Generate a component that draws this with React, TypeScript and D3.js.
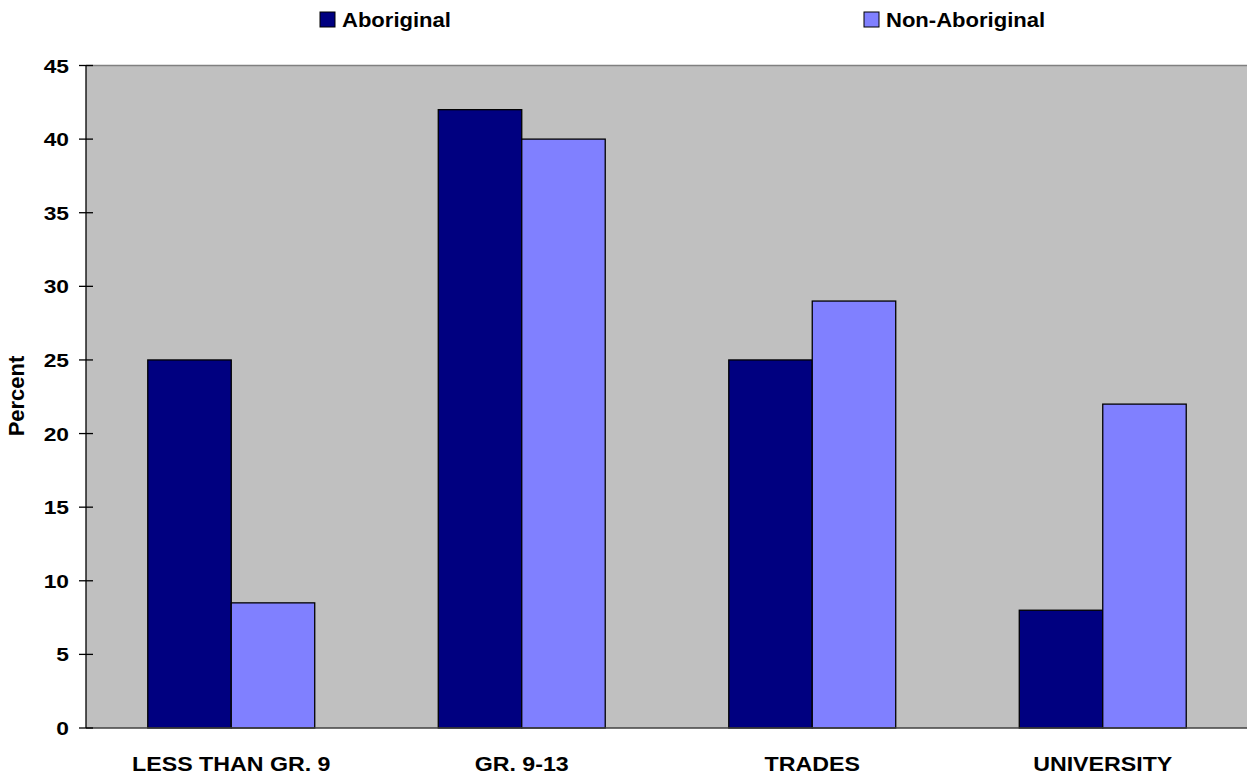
import React from "react";
import * as d3 from "d3";

const categories = ["LESS THAN GR. 9", "GR. 9-13", "TRADES", "UNIVERSITY"];
const seriesNames = ["Aboriginal", "Non-Aboriginal"];
const aboriginal = [25, 42, 25, 8];
const nonAboriginal = [8.5, 40, 29, 22];
const yTicks = [0, 5, 10, 15, 20, 25, 30, 35, 40, 45];
const colors = ["#000080", "#8080FF"];

const W = 1247;
const H = 775;
const plot = { left: 86, right: 1248, top: 65.5, bottom: 728 };
const FONT = "Liberation Sans, Arial, sans-serif";

export default function App() {
  const x0 = d3.scaleBand<string>().domain(categories).range([plot.left, plot.right]);
  const x1 = d3
    .scaleBand<string>()
    .domain(seriesNames)
    .range([0, x0.bandwidth()])
    .paddingInner(0)
    .paddingOuter(0.74);
  const y = d3.scaleLinear().domain([0, 45]).range([plot.bottom, plot.top]);
  const values = [aboriginal, nonAboriginal];

  return (
    <svg
      width={W}
      height={H}
      style={{ position: "absolute", left: 0, top: 0, background: "#fff" }}
      fontFamily={FONT}
      fontWeight="bold"
    >
      {/* plot background */}
      <rect
        x={plot.left}
        y={plot.top}
        width={plot.right - plot.left}
        height={plot.bottom - plot.top}
        fill="#C0C0C0"
      />
      <line x1={plot.left} x2={plot.right} y1={plot.top} y2={plot.top} stroke="#808080" strokeWidth={1.5} />

      {/* bars */}
      {categories.map((c, i) =>
        seriesNames.map((s, j) => {
          const v = values[j][i];
          const bx = (x0(c) ?? 0) + (x1(s) ?? 0);
          return (
            <rect
              key={c + s}
              x={bx}
              y={y(v)}
              width={x1.bandwidth()}
              height={y(0) - y(v)}
              fill={colors[j]}
              stroke="#000"
              strokeWidth={1.3}
            />
          );
        })
      )}

      {/* axes */}
      <line x1={plot.left} x2={plot.right} y1={plot.bottom} y2={plot.bottom} stroke="#404040" strokeWidth={1.5} />
      <line x1={plot.left} x2={plot.left} y1={plot.top} y2={plot.bottom} stroke="#000" strokeWidth={1.3} />
      {yTicks.map((t) => (
        <g key={t}>
          <line x1={plot.left - 7} x2={plot.left + 7} y1={y(t)} y2={y(t)} stroke="#000" strokeWidth={1.3} />
          <g transform={`translate(69,${y(t) + 7}) scale(1.2,1)`}>
            <text textAnchor="end" fontSize={19} fill="#000">
              {t}
            </text>
          </g>
        </g>
      ))}

      {/* category labels */}
      {categories.map((c) => (
        <g key={c} transform={`translate(${(x0(c) ?? 0) + x0.bandwidth() / 2},771) scale(1.16,1)`}>
          <text textAnchor="middle" fontSize={20} fill="#000">
            {c}
          </text>
        </g>
      ))}

      {/* y-axis title */}
      <text
        transform="translate(24,396) rotate(-90)"
        textAnchor="middle"
        fontSize={22}
        fill="#000"
      >
        Percent
      </text>

      {/* legend */}
      {seriesNames.map((s, j) => {
        const lx = j === 0 ? 320 : 864;
        return (
          <g key={s}>
            <rect x={lx} y={12} width={15} height={15} fill={colors[j]} stroke="#000" strokeWidth={1} />
            <g transform={`translate(${lx + 22},27) scale(1.05,1)`}>
              <text fontSize={21} fill="#000">
                {s}
              </text>
            </g>
          </g>
        );
      })}
    </svg>
  );
}
